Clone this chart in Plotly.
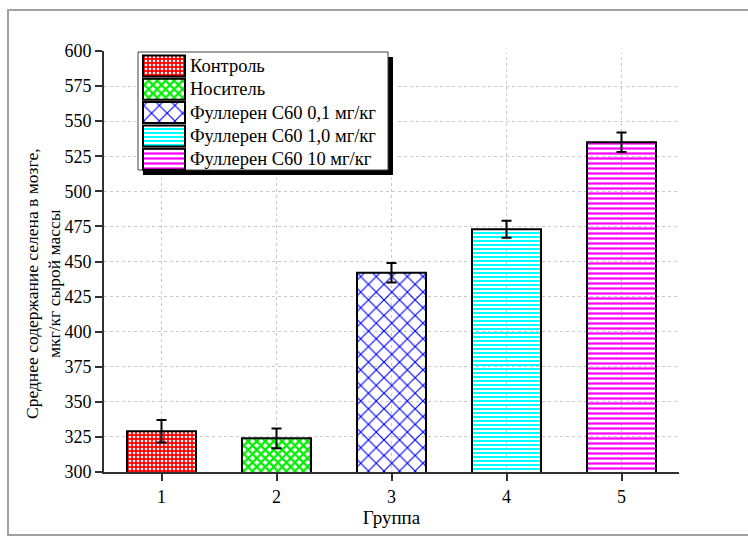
import plotly.graph_objects as go

# Data: mean selenium content in brain tissue per group
groups = [1, 2, 3, 4, 5]
means = [329, 324, 442, 473, 535]
errors = [8, 7, 7, 6, 7]
names = ["Контроль", "Носитель", "Фуллерен С60 0,1 мг/кг",
         "Фуллерен С60 1,0 мг/кг", "Фуллерен С60 10 мг/кг"]
y_ticks = list(range(300, 601, 25))
y_title = ["Среднее содержание селена в мозге,", "мкг/кг сырой массы"]

# Fill styles per group
bg_colors = ["#ff0000", "rgba(0,0,0,0)", "rgba(0,0,0,0)", "rgba(0,0,0,0)", "rgba(0,0,0,0)"]
fg_colors = ["#ffffff", "#00ee00", "#0000ff", "#00ffff", "#ff00ff"]
shapes_ = [".", "x", "x", "-", "-"]
sizes_ = [4, 6, 11, 4, 5]
solid_ = [0.35, 0.6, 0.2, 0.5, 0.45]

FONT = "Liberation Serif"

# Plot area geometry in pixels
W, H = 748, 536
ML, MR, MT, MB = 104, 69, 51, 64
PW, PH = W - ML - MR, H - MT - MB


def px_x(px):
    return (px - ML) / PW


def px_y(py):
    return min(1.0, max(0.0, (H - MB - py) / PH))


def pattern(i):
    return dict(shape=shapes_[i], fgcolor=fg_colors[i], bgcolor=bg_colors[i],
                size=sizes_[i], solidity=solid_[i], fillmode="replace")


def font(size):
    return dict(family=FONT, size=size, color="black")


fig = go.Figure()

for i in range(len(groups)):
    fig.add_trace(go.Bar(
        x=[groups[i]], y=[means[i]], width=0.6,
        error_y=dict(type="data", array=[errors[i]], color="black", thickness=2, width=5),
        marker=dict(color=bg_colors[i], line=dict(color="black", width=2), pattern=pattern(i)),
        showlegend=False, xaxis="x", yaxis="y",
    ))

# Legend drawn in its own small subplot, measured in pixels
LX0, LX1, LY0, LY1 = 138, 388, 52, 170
BW, BH = LX1 - LX0, LY1 - LY0
PAD1, SH = 8, 5
TOP = MT  # top edge of the legend subplot
row0, row_h, sw_h = 14, 23.3, 21

# shadow and box
fig.add_trace(go.Bar(x=[BW], y=[BH / 2 + SH], base=[SH], orientation="h", width=BH,
                     marker=dict(color="black", line=dict(width=0)), cliponaxis=False,
                     showlegend=False, hoverinfo="skip", xaxis="x2", yaxis="y2"))
fig.add_trace(go.Bar(x=[BW], y=[BH / 2], base=[0], orientation="h", width=BH,
                     marker=dict(color="white", line=dict(color="#404040", width=1)),
                     cliponaxis=False,
                     showlegend=False, hoverinfo="skip", xaxis="x2", yaxis="y2"))

for i in range(len(names)):
    yc = row0 + i * row_h
    fig.add_trace(go.Bar(
        x=[42], y=[yc], base=[5], orientation="h", width=sw_h,
        marker=dict(color=bg_colors[i], line=dict(color="black", width=2), pattern=pattern(i)),
        showlegend=False, hoverinfo="skip", xaxis="x2", yaxis="y2",
    ))
    fig.add_annotation(x=50, y=yc, xref="x2", yref="y2", text=names[i],
                       showarrow=False, xanchor="left", yanchor="middle",
                       font=font(18.5))

# Y-axis title, two rotated lines
for line, cx in zip(y_title, [32, 54]):
    fig.add_annotation(x=(cx - ML) / PW, y=px_y(284), xref="paper", yref="paper",
                       text=line, textangle=-90, showarrow=False,
                       xanchor="center", yanchor="middle", font=font(17.5))

fig.update_layout(
    barmode="overlay",
    xaxis2=dict(domain=[px_x(LX0 - 2), px_x(LX1 + PAD1)], range=[-2, BW + PAD1],
                visible=False, anchor="y2", fixedrange=True),
    yaxis2=dict(domain=[px_y(LY1 + PAD1), px_y(TOP)], range=[BH + PAD1, TOP - LY0],
                visible=False, anchor="x2", fixedrange=True),
)

shapes = [
    # outer frame
    dict(type="rect", xref="paper", yref="paper",
         x0=(8 - ML) / PW, x1=(760 - ML) / PW, y0=(H - MB - 535) / PH, y1=(H - MB - 10) / PH,
         line=dict(color="#a0a0a0", width=2), fillcolor="rgba(0,0,0,0)", layer="below"),
    # hide the gridline at the top of the range
    dict(type="line", xref="x", yref="y", x0=0.5, x1=5.5, y0=600, y1=600,
         line=dict(color="white", width=3), layer="between"),
]

fig.update_layout(
    width=W, height=H,
    margin=dict(l=ML, r=MR, t=MT, b=MB),
    paper_bgcolor="white", plot_bgcolor="white",
    font=font(18),
    shapes=shapes,
    xaxis=dict(
        domain=[0, 1], range=[0.5, 5.5], tickvals=groups, ticktext=[str(g) for g in groups],
        ticks="outside", ticklen=7, tickwidth=2, tickcolor="#303030",
        showline=True, linecolor="#303030", linewidth=2,
        showgrid=True, gridcolor="#c8c8c8", griddash="dot", gridwidth=1,
        zeroline=False, tickfont=font(18),
        title=dict(text="Группа", font=font(19), standoff=4),
        anchor="y",
    ),
    yaxis=dict(
        domain=[0, 1], range=[300, 600], tickvals=y_ticks,
        ticks="outside", ticklen=7, tickwidth=2, tickcolor="#303030",
        showline=True, linecolor="#303030", linewidth=2,
        showgrid=True, gridcolor="#c8c8c8", griddash="dot", gridwidth=1,
        zeroline=False, tickfont=font(18),
        anchor="x",
    ),
)

fig.write_html("out.html")
